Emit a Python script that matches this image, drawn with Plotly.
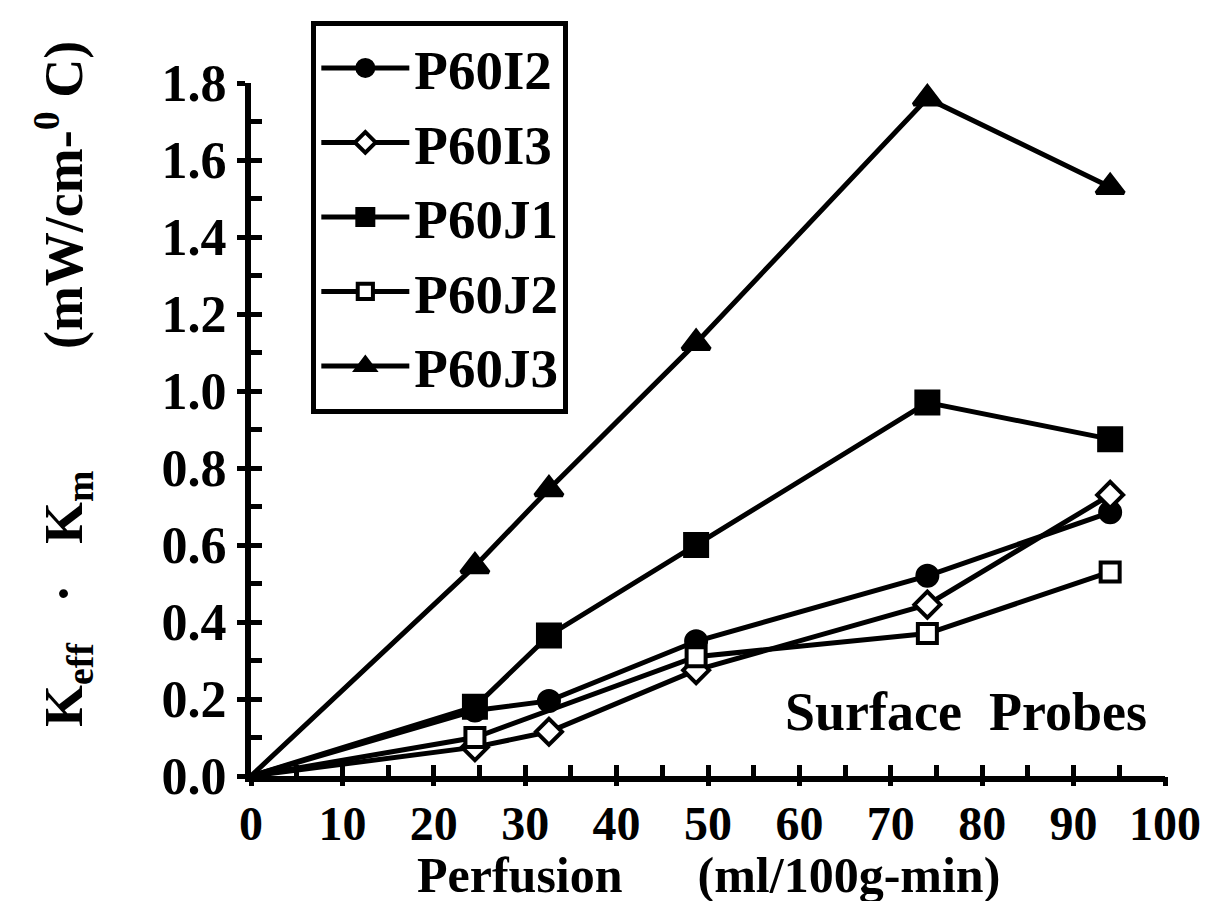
import plotly.graph_objects as go

# ---- data ----
perf_x = [0, 24.5, 32.6, 48.7, 74.0, 94.0]
perf_x_j2 = [0, 24.5, 48.7, 74.0, 94.0]

p60i2 = [0, 0.17, 0.195, 0.35, 0.52, 0.685]
p60i3 = [0, 0.075, 0.115, 0.275, 0.445, 0.73]
p60j1 = [0, 0.18, 0.365, 0.60, 0.97, 0.875]
p60j2 = [0, 0.10, 0.31, 0.37, 0.53]
p60j3 = [0, 0.545, 0.745, 1.125, 1.76, 1.53]

series_names = ["P60I2", "P60I3", "P60J1", "P60J2", "P60J3"]

y_tick_vals = [0.0, 0.2, 0.4, 0.6, 0.8, 1.0, 1.2, 1.4, 1.6, 1.8]
y_tick_text = ["0.0", "0.2", "0.4", "0.6", "0.8", "1.0", "1.2", "1.4", "1.6", "1.8"]
x_tick_vals = [0, 10, 20, 30, 40, 50, 60, 70, 80, 90, 100]

x_title = "Perfusion" + "\u00a0" * 6 + "(ml/100g-min)"

FONT = "Liberation Serif"
BLACK = "black"
NB = "\u00a0"

styles = {
    "P60I2": dict(symbol="circle", color=BLACK, size=20),
    "P60I3": dict(symbol="diamond", color="white", size=20),
    "P60J1": dict(symbol="square", color=BLACK, size=22),
    "P60J2": dict(symbol="square", color="white", size=19),
    "P60J3": dict(symbol="triangle-up", color=BLACK, size=24),
}

data = [
    ("P60I2", perf_x, p60i2),
    ("P60I3", perf_x, p60i3),
    ("P60J1", perf_x, p60j1),
    ("P60J2", perf_x_j2, p60j2),
    ("P60J3", perf_x, p60j3),
]

fig = go.Figure()
for name, xs, ys in data:
    st = styles[name]
    sizes = [0 if x == 0 else st["size"] for x in xs]
    fig.add_trace(go.Scatter(
        x=xs, y=ys, name=name, mode="lines+markers",
        line=dict(color=BLACK, width=5),
        marker=dict(symbol=st["symbol"], size=sizes, color=st["color"],
                    opacity=1, line=dict(color=BLACK, width=4)),
    ))

# dummy trace for overlay axes (extra tick directions)
fig.add_trace(go.Scatter(x=[None], y=[None], xaxis="x2", yaxis="y2",
                         showlegend=False, hoverinfo="skip"))

tickfont = dict(family=FONT, size=52, color=BLACK, weight="bold")

fig.update_layout(
    width=1210, height=901,
    paper_bgcolor="white", plot_bgcolor="white",
    margin=dict(l=243, r=53, t=75, b=133),
    font=dict(family=FONT, color=BLACK, weight="bold"),
    showlegend=True,
    legend=dict(
        x=0.066, y=1.09, xanchor="left", yanchor="top",
        bordercolor=BLACK, borderwidth=5, bgcolor="white",
        font=dict(family=FONT, size=55, color=BLACK, weight="bold"),
        itemwidth=88, tracegroupgap=0,
    ),
    xaxis=dict(
        range=[0, 100], showgrid=False, zeroline=False,
        showline=True, linecolor=BLACK, linewidth=6,
        tickmode="array", tickvals=x_tick_vals,
        ticks="inside", ticklen=11, tickwidth=5, tickcolor=BLACK,
        minor=dict(dtick=5, tick0=0, ticks="inside", ticklen=11,
                   tickwidth=5, tickcolor=BLACK),
        tickfont=dict(family=FONT, size=48, color=BLACK, weight="bold"),
    ),
    yaxis=dict(
        range=[0, 1.8], showgrid=False, zeroline=False,
        showline=True, linecolor=BLACK, linewidth=6,
        tickmode="array", tickvals=y_tick_vals, ticktext=y_tick_text,
        ticks="outside", ticklen=8, tickwidth=5, tickcolor=BLACK,
        tickfont=tickfont,
    ),
    xaxis2=dict(
        range=[0, 100], overlaying="x", anchor="y2", showgrid=False,
        zeroline=False, showline=False, showticklabels=False,
        tickmode="array", tickvals=x_tick_vals,
        ticks="outside", ticklen=9, tickwidth=5, tickcolor=BLACK,
    ),
    yaxis2=dict(
        range=[0, 1.8], overlaying="y", anchor="x2", side="left",
        showgrid=False, zeroline=False, showline=False,
        showticklabels=False, dtick=0.1, tick0=0, ticks="inside",
        ticklen=11, tickwidth=5, tickcolor=BLACK,
    ),
    annotations=[
        dict(
            text="K<sub>eff</sub>" + NB * 3 + "·" + NB * 3 + "K<sub>m</sub>"
                 + NB * 9 + "(mW/cm-<sup>0</sup> C)",
            xref="paper", yref="paper", x=-0.205, y=0.565,
            xanchor="center", yanchor="middle", textangle=-90,
            showarrow=False,
            font=dict(family=FONT, size=54, color=BLACK, weight="bold"),
        ),
        dict(
            text=x_title,
            xref="paper", yref="paper", x=0.5, y=-0.143,
            xanchor="center", yanchor="middle", showarrow=False,
            font=dict(family=FONT, size=50, color=BLACK, weight="bold"),
        ),
        dict(
            text="Surface" + NB * 2 + "Probes",
            xref="x", yref="y", x=78.2, y=0.165,
            xanchor="center", yanchor="middle", showarrow=False,
            font=dict(family=FONT, size=54, color=BLACK, weight="bold"),
        ),
    ],
)

fig.write_html("out.html")
